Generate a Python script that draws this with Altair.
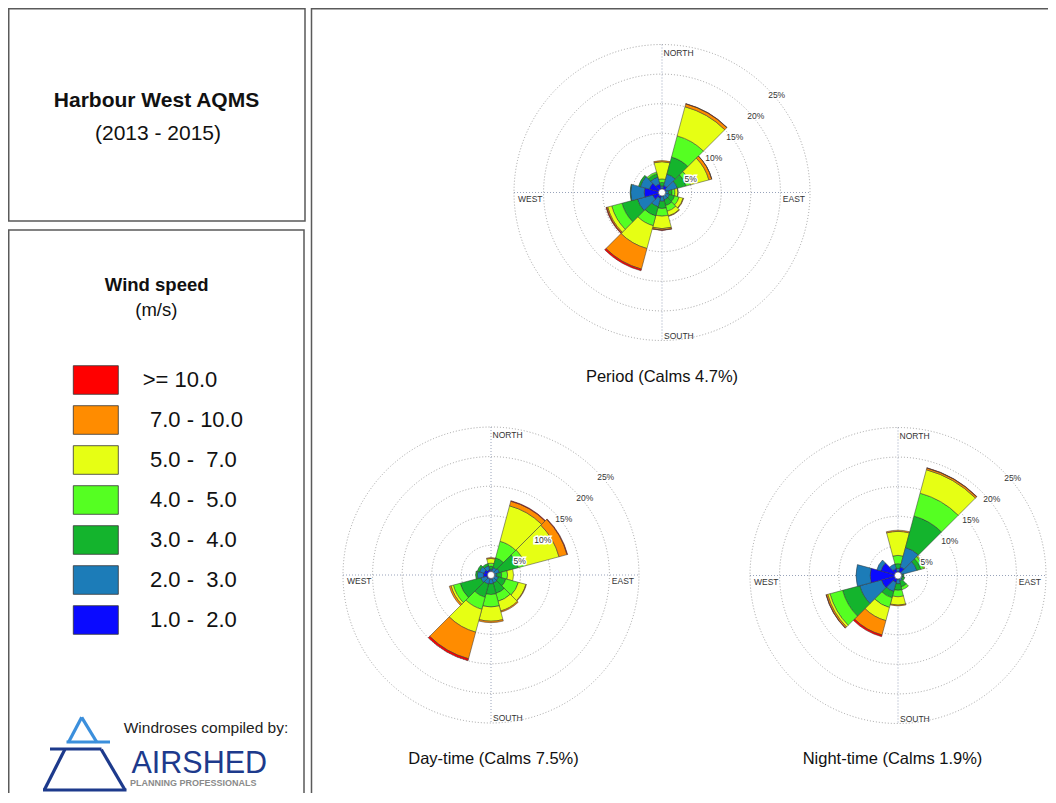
import math
import altair as alt
import pandas as pd

# ---------------- data ----------------
STATION = "Harbour West AQMS"
YEARS = "(2013 - 2015)"
LEGEND_TITLE = "Wind speed"
LEGEND_UNIT = "(m/s)"
CREDIT = "Windroses compiled by:"
BRAND = "AIRSHED"
BRAND_SUB = "PLANNING PROFESSIONALS"

# speed classes, inner -> outer
SPEED_BINS = ["1.0 - 2.0", "2.0 - 3.0", "3.0 - 4.0", "4.0 - 5.0", "5.0 - 7.0", "7.0 - 10.0", ">= 10.0"]
SPEED_COLORS = ["#0a0aff", "#1c7cb8", "#14b42d", "#55ff22", "#e6ff14", "#ff8c00", "#ff0000"]
# legend rows, top -> bottom
LEGEND_BINS = [">= 10.0", "7.0 - 10.0", "5.0 - 7.0", "4.0 - 5.0", "3.0 - 4.0", "2.0 - 3.0", "1.0 - 2.0"]
LEGEND_LABELS = [">= 10.0", "7.0 - 10.0", "5.0 -  7.0", "4.0 -  5.0", "3.0 -  4.0", "2.0 -  3.0", "1.0 -  2.0"]

DIRECTIONS = [0, 30, 60, 90, 120, 150, 180, 210, 240, 270, 300, 330]

# frequency (%) of each speed class (inner -> outer) per direction
PERIOD_FREQ = [
    [0.6, 0.5, 0.6, 0.6, 2.9, 0.2, 0.0],
    [1.2, 2.0, 3.0, 3.7, 5.1, 0.5, 0.05],
    [0.8, 1.9, 1.5, 0.8, 3.2, 0.5, 0.02],
    [0.5, 0.6, 0.6, 0.5, 0.5, 0.02, 0.0],
    [0.5, 0.8, 0.9, 0.8, 0.7, 0.1, 0.0],
    [0.5, 0.8, 1.0, 1.0, 0.8, 0.1, 0.0],
    [0.6, 0.9, 1.2, 1.3, 2.1, 0.25, 0.05],
    [1.0, 1.5, 1.6, 1.7, 4.0, 3.6, 0.3],
    [1.6, 2.7, 2.7, 1.8, 0.7, 0.2, 0.1],
    [3.0, 2.3, 0.1, 0.0, 0.0, 0.0, 0.0],
    [2.2, 1.6, 0.3, 0.0, 0.0, 0.0, 0.0],
    [1.5, 1.2, 0.6, 0.3, 0.0, 0.0, 0.0],
]
DAY_FREQ = [
    [0.7, 0.3, 0.5, 0.5, 0.8, 0.15, 0.0],
    [0.6, 0.7, 1.7, 2.9, 6.2, 0.8, 0.1],
    [0.6, 0.9, 3.3, 1.2, 5.9, 1.4, 0.1],
    [0.6, 0.4, 0.8, 1.0, 1.0, 0.0, 0.0],
    [0.6, 0.7, 1.3, 2.2, 1.3, 0.1, 0.0],
    [0.6, 0.8, 1.8, 1.4, 1.7, 0.2, 0.0],
    [0.7, 0.8, 1.8, 2.1, 2.4, 0.25, 0.0],
    [0.7, 0.9, 2.3, 2.1, 4.0, 4.65, 0.35],
    [0.8, 1.0, 3.6, 1.2, 0.4, 0.3, 0.0],
    [1.3, 1.0, 0.3, 0.0, 0.0, 0.0, 0.0],
    [1.2, 0.8, 0.4, 0.0, 0.0, 0.0, 0.0],
    [0.9, 0.7, 0.4, 0.0, 0.0, 0.0, 0.0],
]
NIGHT_FREQ = [
    [0.6, 0.6, 0.8, 1.4, 4.05, 0.2, 0.0],
    [1.5, 3.4, 5.5, 4.0, 4.1, 0.3, 0.05],
    [0.7, 2.6, 0.7, 0.5, 0.2, 0.0, 0.0],
    [0.4, 0.4, 0.2, 0.0, 0.0, 0.0, 0.0],
    [0.4, 0.4, 0.4, 0.0, 0.0, 0.0, 0.0],
    [0.5, 0.5, 1.0, 0.5, 0.0, 0.0, 0.0],
    [0.6, 0.8, 1.1, 1.1, 1.4, 0.15, 0.0],
    [1.2, 1.6, 1.1, 1.7, 2.3, 2.5, 0.3],
    [2.9, 3.8, 3.0, 2.2, 0.4, 0.25, 0.05],
    [4.7, 2.4, 0.0, 0.0, 0.0, 0.0, 0.0],
    [3.0, 0.7, 0.0, 0.0, 0.0, 0.0, 0.0],
    [1.2, 0.8, 0.0, 0.0, 0.0, 0.0, 0.0],
]
ROSE_TITLES = ["Period (Calms 4.7%)", "Day-time (Calms 7.5%)", "Night-time (Calms 1.9%)"]
RINGS = [5, 10, 15, 20, 25]
RING_LABELS = ["5%", "10%", "15%", "20%", "25%"]
COMPASS = ["NORTH", "EAST", "SOUTH", "WEST"]

# ---------------- layout / style ----------------
W, H = 1040, 785
ARIAL = "Liberation Sans, Arial, Helvetica, sans-serif"
CENTERS = [(654, 184.5), (483, 567), (890, 567.5)]
TITLE_POS = [(654, 373.5), (485.5, 755.5), (884.5, 755.5)]
RSCALE = alt.Scale(type="linear", domain=[0, 25], range=[0, 148], nice=False, zero=True)
CSCALE = alt.Scale(domain=SPEED_BINS, range=SPEED_COLORS)
ONE = pd.DataFrame({"a": [0]})
TWO_PI = 2 * math.pi

layers = []


def text_layer(txt, x, y, size, weight="normal", align="center",
               baseline="alphabetic", color="#111111"):
    return alt.Chart(ONE).mark_text(
        text=txt, fontSize=size, font=ARIAL, fontWeight=weight, align=align,
        baseline=baseline, color=color,
    ).encode(x=alt.value(x), y=alt.value(y))


def rule_layer(x, y, x2, y2, color, width, dash=None):
    kw = dict(color=color, strokeWidth=width)
    if dash:
        kw["strokeDash"] = dash
    return alt.Chart(ONE).mark_rule(**kw).encode(
        x=alt.value(x), y=alt.value(y), x2=alt.value(x2), y2=alt.value(y2))


# panel boxes
for (bx, by, bx2, by2) in [(0.75, 0.75, 297, 213), (0.75, 222, 296, 820), (303.5, 0.75, 1080, 820)]:
    layers.append(alt.Chart(ONE).mark_rect(fillOpacity=0, stroke="#5a5a5a", strokeWidth=1.5).encode(
        x=alt.value(bx), y=alt.value(by), x2=alt.value(bx2), y2=alt.value(by2)))

# left title
layers.append(text_layer(STATION, 148.5, 98.5, 21, "bold"))
layers.append(text_layer(YEARS, 150, 132, 21))
layers.append(text_layer(LEGEND_TITLE, 148.7, 283, 18.5, "bold"))
layers.append(text_layer(LEGEND_UNIT, 148.3, 308, 18.5))

# legend
leg = pd.DataFrame({"bin": LEGEND_BINS,
                    "label": [s.replace(" ", "\u00a0") for s in LEGEND_LABELS],
                    "row": list(range(len(LEGEND_BINS)))})
YLEG = alt.Scale(domain=[0, 7], range=[357.7, 637.7], nice=False, zero=False)
leg_base = alt.Chart(leg).transform_calculate(row_end="datum.row + 0.715", row_mid="datum.row + 0.3575")
layers.append(leg_base.mark_rect(stroke="#333333", strokeWidth=0.8).encode(
    x=alt.value(65.3), x2=alt.value(110.3),
    y=alt.Y("row:Q", scale=YLEG, axis=None), y2="row_end:Q",
    color=alt.Color("bin:N", scale=CSCALE, legend=None)))
layers.append(leg_base.transform_filter("datum.row == 0").mark_text(
    align="left", baseline="middle", fontSize=22, font=ARIAL, color="#111111").encode(
    x=alt.value(134.7), y=alt.Y("row_mid:Q", scale=YLEG, axis=None), text="label:N"))
layers.append(leg_base.transform_filter("datum.row > 0").mark_text(
    align="left", baseline="middle", fontSize=22, font=ARIAL, color="#111111").encode(
    x=alt.value(142), y=alt.Y("row_mid:Q", scale=YLEG, axis=None), text="label:N"))

# logo
LIGHT, NAVY = "#3b8fdc", "#1d3a8c"
for seg, col in [((73.7, 709.3, 60.4, 734.5), LIGHT), ((73.7, 709.3, 89.0, 734.5), LIGHT),
                 ((58.5, 734.0, 102.0, 734.0), LIGHT),
                 ((42.0, 741.0, 93.5, 741.0), NAVY), ((56.8, 741.5, 36.3, 782.0), NAVY),
                 ((93.3, 741.5, 117.0, 782.0), NAVY), ((35.0, 782.0, 118.5, 782.0), NAVY)]:
    layers.append(rule_layer(*seg, col, 3.2))
layers.append(text_layer(CREDIT, 198, 725, 15.5, color="#222222"))
layers.append(text_layer(BRAND, 123.5, 765.3, 30.5, align="left", color=NAVY))
layers.append(text_layer(BRAND_SUB, 122, 777.5, 9, "bold", align="left", color="#8a8a8a"))

# roses
rings_df = pd.DataFrame({"ring": RINGS, "lab": RING_LABELS})
for title, freq, (cx, cy), (tx, ty) in zip(ROSE_TITLES, [PERIOD_FREQ, DAY_FREQ, NIGHT_FREQ], CENTERS, TITLE_POS):
    # grid
    layers.append(alt.Chart(rings_df).mark_arc(fillOpacity=0, stroke="#8c8c8c", strokeWidth=0.8,
                                               strokeDash=[1, 2]).encode(
        x=alt.value(cx), y=alt.value(cy), theta=alt.value(0), theta2=alt.value(TWO_PI),
        radius=alt.Radius("ring:Q", scale=RSCALE, stack=None)))
    layers.append(rule_layer(cx, cy - 148, cx, cy + 148, "#7d8ca8", 0.8, [1, 2]))
    layers.append(rule_layer(cx - 148, cy, cx + 148, cy, "#7d8ca8", 0.8, [1, 2]))

    rows = []
    for d, vals in zip(DIRECTIONS, freq):
        for k, (b, v) in enumerate(zip(SPEED_BINS, vals)):
            rows.append({"dir": d, "k": k, "bin": b, "freq": v})
    df = pd.DataFrame(rows)
    petals = alt.Chart(df).transform_stack(
        stack="freq", groupby=["dir"], as_=["lo", "hi"], sort=[alt.SortField("k", order="ascending")]
    ).transform_filter("datum.freq > 0").transform_calculate(
        t0="(datum.dir - 15) * PI / 180", t1="(datum.dir + 15) * PI / 180"
    ).mark_arc(stroke="#333333", strokeWidth=0.5).encode(
        x=alt.value(cx), y=alt.value(cy),
        theta=alt.Theta("t0:Q", scale=None, stack=None), theta2=alt.Theta2("t1:Q"),
        radius=alt.Radius("hi:Q", scale=RSCALE, stack=None), radius2=alt.Radius2("lo:Q"),
        color=alt.Color("bin:N", scale=CSCALE, legend=None))
    layers.append(petals)

    # calm hole
    layers.append(alt.Chart(ONE).mark_arc(fill="white", stroke="#555555", strokeWidth=0.6).encode(
        x=alt.value(cx), y=alt.value(cy), theta=alt.value(0), theta2=alt.value(TWO_PI),
        radius=alt.value(3.5)))

    # ring labels
    for halo in (True, False):
        kw = dict(align="left", baseline="top", dx=1.5, dy=3, fontSize=8.5, font=ARIAL)
        if halo:
            kw.update(color="white", stroke="white", strokeWidth=3)
        else:
            kw.update(color="#333333")
        layers.append(alt.Chart(rings_df).mark_text(**kw).encode(
            x=alt.value(cx), y=alt.value(cy), theta=alt.value(math.pi / 4),
            radius=alt.Radius("ring:Q", scale=RSCALE, stack=None), text="lab:N"))

    # compass labels
    layers.append(text_layer(COMPASS[0], cx + 1.5, cy - 140, 8.5, align="left", baseline="middle", color="#333333"))
    layers.append(text_layer(COMPASS[1], cx + 143, cy + 6, 8.5, align="right", baseline="middle", color="#333333"))
    layers.append(text_layer(COMPASS[2], cx + 2, cy + 143, 8.5, align="left", baseline="middle", color="#333333"))
    layers.append(text_layer(COMPASS[3], cx - 144, cy + 6, 8.5, align="left", baseline="middle", color="#333333"))

    layers.append(text_layer(title, tx, ty, 16.5))

chart = alt.layer(*layers).properties(
    width=W, height=H, padding=0, autosize=alt.AutoSizeParams(type="none")
).configure_view(stroke=None)

chart.save("out.html", embed_options={"renderer": "svg", "actions": False})
